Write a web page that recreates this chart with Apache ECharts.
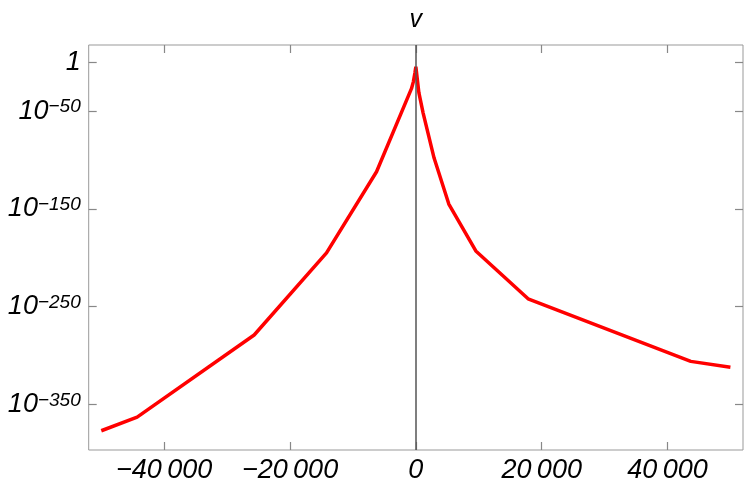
<!DOCTYPE html>
<html>
<head>
<meta charset="utf-8">
<script src="https://cdn.jsdelivr.net/npm/echarts@6/dist/echarts.min.js"></script>
<style>
  html, body { margin: 0; padding: 0; background: #fff; }
  #chart { width: 750px; height: 492px; }
</style>
</head>
<body>
<div id="chart"></div>
<script>
// x positions and log10 of v
const xValues = [-50000, -44300, -25700, -14200, -6250, -700, -400, -150, 0, 480, 1160, 2900, 5240, 9530, 17840, 43700, 50000];
const logV = [-377, -363, -279, -195, -112, -27, -20, -11, -4.5, -31, -52, -98, -145, -193, -242, -306, -312];

const xTicks = [-40000, -20000, 0, 20000, 40000];
const yTicks = [0, -50, -150, -250, -350];

const FONT = 'Liberation Sans';
const tickColor = '#999';

const fmtX = (v) => {
  if (v === 0) return '0';
  const s = String(Math.abs(v)).replace(/\B(?=(\d{3})+(?!\d))/g, '\u2009');
  return (v < 0 ? '\u2212' : '') + s;
};
const fmtY = (v) => {
  if (v === 0) return '{b|1}';
  return '{b|10}{s|' + (v < 0 ? '\u2212' : '') + Math.abs(v) + '}';
};

const chart = echarts.init(document.getElementById('chart'));

const tickStyle = {
  show: true,
  inside: true,
  length: 8,
  lineStyle: { color: '#888', width: 1.2 }
};

const option = {
  animation: false,
  grid: {
    left: 88.7,
    right: 7,
    top: 45,
    bottom: 42,
    show: true,
    borderColor: tickColor,
    borderWidth: 1
  },
  xAxis: [
    {
      type: 'value',
      min: -52000,
      max: 52000,
      position: 'bottom',
      axisLine: { show: false, onZero: false },
      splitLine: { show: false },
      axisTick: Object.assign({ customValues: xTicks }, tickStyle),
      axisLabel: {
        customValues: xTicks,
        formatter: fmtX,
        fontFamily: FONT,
        fontStyle: 'italic',
        fontSize: 27,
        color: '#000',
        margin: 7
      }
    },
    {
      type: 'value',
      min: -52000,
      max: 52000,
      position: 'top',
      axisLine: { show: false, onZero: false },
      splitLine: { show: false },
      axisTick: Object.assign({ customValues: xTicks }, tickStyle),
      axisLabel: { show: false }
    }
  ],
  yAxis: [
    {
      type: 'value',
      min: -396.7,
      max: 17.7,
      position: 'left',
      axisLine: { show: false, onZero: false },
      splitLine: { show: false },
      axisTick: Object.assign({ customValues: yTicks }, tickStyle),
      axisLabel: {
        customValues: yTicks,
        formatter: fmtY,
        margin: 8,
        color: '#000',
        rich: {
          b: { fontFamily: FONT, fontStyle: 'italic', fontSize: 27, lineHeight: 27, color: '#000' },
          s: { fontFamily: FONT, fontStyle: 'italic', fontSize: 19, lineHeight: 15, verticalAlign: 'top', color: '#000' }
        }
      }
    },
    {
      type: 'value',
      min: -396.7,
      max: 17.7,
      position: 'right',
      axisLine: { show: false, onZero: false },
      splitLine: { show: false },
      axisTick: Object.assign({ customValues: yTicks }, tickStyle),
      axisLabel: { show: false }
    }
  ],
  series: [
    {
      type: 'line',
      z: 1,
      data: [],
      silent: true,
      markLine: {
        silent: true,
        symbol: 'none',
        animation: false,
        lineStyle: { color: '#555', width: 1.5, type: 'solid' },
        label: {
          show: true,
          position: 'end',
          formatter: 'v',
          distance: 12,
          fontFamily: FONT,
          fontStyle: 'italic',
          fontSize: 25,
          color: '#000'
        },
        data: [{ xAxis: 0 }]
      }
    },
    {
      type: 'line',
      z: 3,
      showSymbol: false,
      symbol: 'none',
      lineStyle: { color: '#ff0000', width: 3.5 },
      data: xValues.map((x, i) => [x, logV[i]])
    }
  ]
};

chart.setOption(option);
</script>
</body>
</html>
